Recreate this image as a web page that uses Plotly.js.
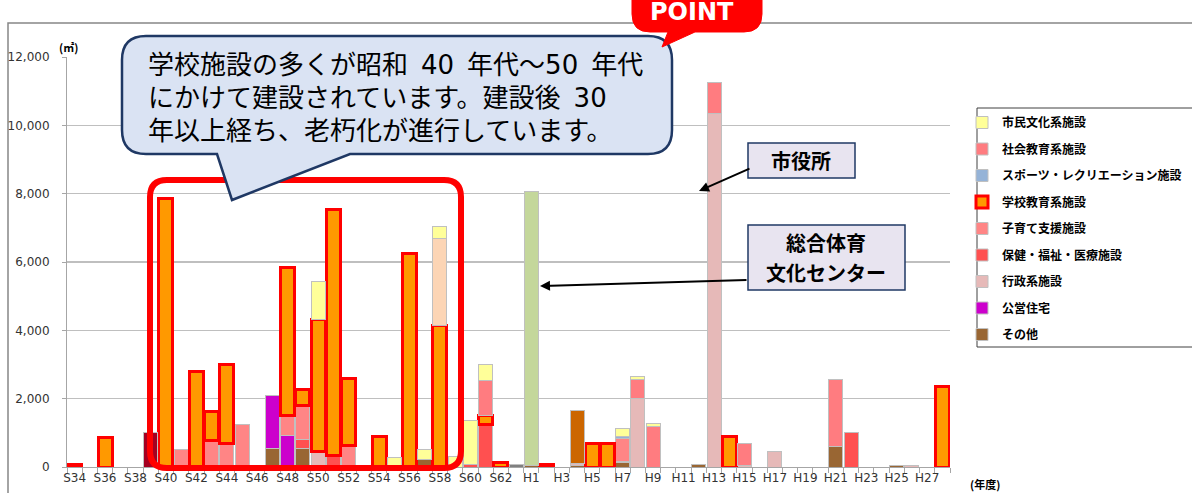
<!DOCTYPE html>
<html>
<head>
<meta charset="utf-8">
<script src="https://cdn.plot.ly/plotly-3.0.1.min.js"></script>
<style>
html,body{margin:0;padding:0;background:#fff;}
#chart{width:1192px;height:493px;}
</style>
</head>
<body>
<div id="chart"></div>
<script>
// ---- categories (fiscal years) ----
const years = ['S34','S35','S36','S37','S38','S39','S40','S41','S42','S43','S44','S45','S46','S47','S48','S49','S50','S51','S52','S53','S54','S55','S56','S57','S58','S59','S60','S61','S62','S63',
  'H1','H2','H3','H4','H5','H6','H7','H8','H9','H10','H11','H12','H13','H14','H15','H16','H17','H18','H19','H20','H21','H22','H23','H24','H25','H26','H27','H28'];
const yearLabels = ['S34','','S36','','S38','','S40','','S42','','S44','','S46','','S48','','S50','','S52','','S54','','S56','','S58','','S60','','S62','',
  'H1','','H3','','H5','','H7','','H9','','H11','','H13','','H15','','H17','','H19','','H21','','H23','','H25','','H27',''];

// ---- series values (m2), one value per year ----
//                 S34..S43                          S44..S53                                   S54..S63                              H1..H10                              H11..H20                               H21..H28
const sonota    = [0,0,0,0,0,0,0,0,0,0,              0,0,0,550,0,550,0,0,0,0,                     0,0,0,220,0,0,0,0,0,0,                 50,0,0,40,0,0,130,0,0,0,              0,60,0,0,0,0,0,0,0,0,                  590,0,0,0,30,0,0,0];
const koei      = [0,0,0,0,0,0,0,0,0,0,              0,0,0,1540,920,0,0,0,0,0,                    0,0,0,0,0,0,0,0,0,0,                   0,0,0,0,0,0,0,0,0,0,                  0,0,0,0,0,0,0,0,0,0,                   0,0,0,0,0,0,0,0];
const gyosei    = [0,0,0,0,0,0,0,0,0,0,              0,0,0,0,0,0,440,0,0,0,                       0,0,0,0,0,0,0,0,0,0,                   0,0,0,50,0,0,40,2010,0,0,             0,0,10350,0,50,0,450,0,0,0,            0,0,0,0,0,30,0,0];
const hoken     = [0,0,0,0,0,0,0,0,0,0,              0,0,0,0,0,250,0,350,0,0,                     0,0,0,0,0,0,60,1230,0,0,               0,0,0,0,0,0,0,0,0,0,                  0,0,0,0,0,0,0,0,0,0,                   0,1000,0,0,0,0,0,0];
const kosodate  = [0,0,0,0,0,0,0,520,0,790,          700,1230,0,0,580,1000,0,0,620,0,             0,0,0,0,0,0,0,0,0,0,                   0,0,0,0,0,0,650,0,0,0,                0,0,0,0,0,0,0,0,0,0,                   0,0,0,0,0,0,0,0];
const gakko     = [80,0,850,0,0,0,7870,0,2790,830,   2290,0,0,0,4350,460,3890,7200,1960,0,        900,0,6250,0,4150,0,0,290,130,0,       0,70,0,0,700,700,0,0,0,0,             0,0,0,900,0,0,0,0,0,0,                 0,0,0,0,0,0,0,2350];
const sports    = [0,0,0,0,0,0,0,0,0,0,              0,0,0,0,0,0,0,0,0,0,                         0,0,0,0,0,0,0,0,0,0,                   0,0,0,0,0,0,80,0,0,0,                 0,0,0,0,0,0,0,0,0,0,                   0,0,0,0,0,0,0,0];
const shakai    = [0,0,0,0,0,0,0,0,0,0,              0,0,0,0,0,0,0,0,0,0,                         0,0,0,0,0,0,0,1000,0,0,                0,0,0,0,0,0,0,560,1180,0,             0,0,900,0,650,0,0,0,0,0,               1985,0,0,0,0,0,0,0];
const peach     = [0,0,0,0,0,0,0,0,0,0,              0,0,0,0,0,0,0,0,0,0,                         0,0,0,0,2550,0,0,0,0,0,                0,0,0,0,0,0,0,0,0,0,                  0,0,0,0,0,0,0,0,0,0,                   0,0,0,0,0,0,0,0];
const green     = [0,0,0,0,0,0,0,0,0,0,              0,0,0,0,0,0,0,0,0,0,                         0,0,0,0,0,0,0,0,0,0,                   8000,0,0,0,0,0,0,0,0,0,               0,0,0,0,0,0,0,0,0,0,                   0,0,0,0,0,0,0,0];
const darkOrange= [0,0,0,0,0,0,0,0,0,0,              0,0,0,0,0,0,0,0,0,0,                         0,0,0,0,0,0,0,0,0,0,                   0,0,0,1560,0,0,0,0,0,0,               0,0,0,0,0,0,0,0,0,0,                   0,0,0,0,0,0,0,0];
const darkRed   = [0,0,0,0,0,1020,0,0,0,0,           0,0,0,0,0,0,0,0,0,0,                         0,0,0,0,0,0,0,0,0,0,                   0,0,0,0,0,0,0,0,0,0,                  0,0,0,0,0,0,0,0,0,0,                   0,0,0,0,0,0,0,0];
const grey      = [0,0,0,0,0,0,0,0,0,0,              0,0,0,0,0,0,0,0,0,0,                         0,0,0,0,0,0,0,0,0,70,                  0,0,0,0,0,0,0,0,0,0,                  0,0,0,0,0,0,0,0,0,0,                   0,0,0,0,0,0,0,0];
const shimin    = [0,0,0,0,0,0,0,0,0,0,              0,0,0,0,0,0,1090,0,0,0,                      0,280,0,300,325,300,1290,470,0,0,      0,0,0,0,0,0,230,90,100,0,             0,0,0,0,0,0,0,0,0,0,                   0,0,0,0,0,0,0,0];

const seriesNames = ['その他','公営住宅','行政系施設','保健・福祉・医療施設','子育て支援施設','学校教育系施設','スポーツ・レクリエーション施設','社会教育系施設','市民文化系施設'];

const FONT = '"Noto Sans CJK JP", "Noto Sans", sans-serif';
const GRID = '#bfbfbf';

function mk(name, y, color, opts) {
  opts = opts || {};
  return {
    type: 'bar', name: name, x: years, y: y.map(v => v === 0 ? null : v),
    marker: {color: color, line: {color: opts.lineColor || '#c0c0c0', width: opts.lineWidth || 1}},
    showlegend: opts.rank !== undefined,
    legendrank: opts.rank !== undefined ? opts.rank : 1000,
    legendgroup: name,
    hoverinfo: 'x+y+name'
  };
}

const traces = [
  mk(seriesNames[0], sonota, '#996633', {rank: 9}),
  mk(seriesNames[1], koei, '#CC00CC', {rank: 8}),
  mk(seriesNames[2], gyosei, '#E6B9B8', {rank: 7}),
  mk(seriesNames[3], hoken, '#FF5050', {rank: 6}),
  mk(seriesNames[4], kosodate, '#FF8585', {rank: 5}),
  mk(seriesNames[5], gakko, '#FF9900', {lineColor: '#FF0000', lineWidth: 3, rank: 4}),
  mk(seriesNames[6], sports, '#95B3D7', {rank: 3}),
  mk(seriesNames[7], shakai, '#FF7C80', {rank: 2}),
  mk('その他施設A', peach, '#FCD5B5'),
  mk('その他施設B', green, '#C4D79B'),
  mk('その他施設C', darkOrange, '#CC6600'),
  mk('その他施設D', darkRed, '#A50021'),
  mk('その他施設E', grey, '#808080'),
  mk(seriesNames[8], shimin, '#FFFF99', {rank: 1})
];

// pixel -> paper helpers for decorations
const PL = 67, PW = 883, PB = 467, PH = 410;
const px = x => (x - PL) / PW;
const py = y => (PB - y) / PH;
function P(x, y) { return px(x).toFixed(5) + ',' + py(y).toFixed(5); }
function roundRect(x0, y0, x1, y1, r, tail) {
  let s = 'M' + P(x0 + r, y0) + ' L' + P(x1 - r, y0) + ' Q' + P(x1, y0) + ' ' + P(x1, y0 + r) +
    ' L' + P(x1, y1 - r) + ' Q' + P(x1, y1) + ' ' + P(x1 - r, y1);
  if (tail) {
    s += ' L' + P(tail[1], y1) + ' L' + P(tail[2], tail[3]) + ' L' + P(tail[0], y1);
  }
  s += ' L' + P(x0 + r, y1) + ' Q' + P(x0, y1) + ' ' + P(x0, y1 - r) +
    ' L' + P(x0, y0 + r) + ' Q' + P(x0, y0) + ' ' + P(x0 + r, y0) + ' Z';
  return s;
}

const shapes = [
  // outer chart frame
  {type: 'rect', xref: 'paper', yref: 'paper', x0: px(8), x1: px(1400), y0: py(23), y1: py(700),
   line: {color: '#868686', width: 1.5}, fillcolor: 'rgba(0,0,0,0)', layer: 'below'},
  // legend frame
  {type: 'rect', xref: 'paper', yref: 'paper', x0: px(977), x1: px(1400), y0: py(108), y1: py(347),
   line: {color: '#404040', width: 1}, fillcolor: '#fff', layer: 'below'},
  // red highlight frame
  {type: 'path', xref: 'paper', yref: 'paper', path: roundRect(150, 180, 461, 468, 17),
   line: {color: '#FF0000', width: 6}, fillcolor: 'rgba(0,0,0,0)'},
  // speech bubble
  {type: 'path', xref: 'paper', yref: 'paper', path: roundRect(122, 36, 672, 154, 24, [217, 350, 232, 200]),
   line: {color: '#1F3864', width: 2.5}, fillcolor: '#DAE3F3'},
  // POINT bubble
  {type: 'path', xref: 'paper', yref: 'paper', path: roundRect(632, -25, 762, 32, 18, [668, 695, 662, 47]),
   line: {color: '#FF0000', width: 1}, fillcolor: '#FF0000'},
  // 市役所 box
  {type: 'rect', xref: 'paper', yref: 'paper', x0: px(748), x1: px(855), y0: py(178), y1: py(143),
   line: {color: '#1F3864', width: 1.5}, fillcolor: '#E8E4F0'},
  // 総合体育文化センター box
  {type: 'rect', xref: 'paper', yref: 'paper', x0: px(748), x1: px(905), y0: py(290), y1: py(225),
   line: {color: '#1F3864', width: 1.5}, fillcolor: '#E8E4F0'}
];

const BUBBLE_FONT = {family: '"DejaVu Sans", "Noto Sans CJK JP", sans-serif', size: 26, color: '#000'};
const ES = '\u2002';
const BOLD20 = {family: FONT, size: 20, color: '#000', weight: 'bold'};
const annotations = [
  {xref: 'paper', yref: 'paper', x: px(146), y: py(65), xanchor: 'left', yanchor: 'middle', align: 'left',
   showarrow: false, font: BUBBLE_FONT, text: '学校施設の多くが昭和' + ES + '40' + ES + '年代～50' + ES + '年代'},
  {xref: 'paper', yref: 'paper', x: px(146), y: py(98), xanchor: 'left', yanchor: 'middle', align: 'left',
   showarrow: false, font: BUBBLE_FONT, text: 'にかけて建設されています。建設後' + ES + '30'},
  {xref: 'paper', yref: 'paper', x: px(146), y: py(131), xanchor: 'left', yanchor: 'middle', align: 'left',
   showarrow: false, font: BUBBLE_FONT, text: '年以上経ち、老朽化が進行しています。'},
  {xref: 'paper', yref: 'paper', x: px(692), y: py(12), xanchor: 'center', yanchor: 'middle', showarrow: false,
   font: {family: '"DejaVu Sans", sans-serif', size: 24, color: '#fff', weight: 'bold'}, text: 'POINT'},
  {xref: 'paper', yref: 'paper', x: px(801), y: py(160), xanchor: 'center', yanchor: 'middle', showarrow: false,
   font: BOLD20, text: '市役所'},
  {xref: 'paper', yref: 'paper', x: px(826), y: py(243), xanchor: 'center', yanchor: 'middle', showarrow: false,
   font: BOLD20, text: '総合体育'},
  {xref: 'paper', yref: 'paper', x: px(826), y: py(272), xanchor: 'center', yanchor: 'middle', showarrow: false,
   font: BOLD20, text: '文化センター'},
  // arrows
  {xref: 'paper', yref: 'paper', x: px(699), y: py(191), ax: 52, ay: -23, text: '', showarrow: true,
   arrowhead: 2, arrowsize: 1, arrowwidth: 2, arrowcolor: '#000'},
  {xref: 'paper', yref: 'paper', x: px(540), y: py(286), ax: 208, ay: -6, text: '', showarrow: true,
   arrowhead: 2, arrowsize: 1, arrowwidth: 2, arrowcolor: '#000'},
  // units
  {xref: 'paper', yref: 'paper', x: px(57), y: py(47), xanchor: 'left', yanchor: 'middle', showarrow: false,
   font: {family: FONT, size: 11, color: '#000', weight: 'bold'}, text: '(㎡)'},
  {xref: 'paper', yref: 'paper', x: px(968), y: py(484), xanchor: 'left', yanchor: 'middle', showarrow: false,
   font: {family: FONT, size: 11, color: '#000', weight: 'bold'}, text: '(年度)'}
];

const layout = {
  width: 1192, height: 493,
  margin: {l: PL, r: 1192 - PL - PW, t: 57, b: 493 - PB, pad: 0, autoexpand: false},
  paper_bgcolor: '#fff', plot_bgcolor: '#fff',
  barmode: 'stack', bargap: 0.08,
  font: {family: FONT, color: '#222'},
  xaxis: {
    type: 'category', categoryorder: 'array', categoryarray: years,
    tickmode: 'array', tickvals: years, ticktext: yearLabels, tickson: 'boundaries',
    ticks: 'outside', ticklen: 5, tickcolor: '#a6a6a6', tickangle: 0,
    showline: true, linecolor: '#a6a6a6', linewidth: 1, showgrid: false,
    tickfont: {family: '"DejaVu Sans", sans-serif', size: 12, color: '#333'}
  },
  yaxis: {
    range: [0, 12000], tickmode: 'linear', tick0: 0, dtick: 2000, tickformat: ',d',
    ticks: 'outside', ticklen: 4, tickcolor: '#a6a6a6', ticklabelstandoff: 10,
    showline: true, linecolor: '#a6a6a6', linewidth: 1,
    showgrid: true, gridcolor: GRID, gridwidth: 1.2, zeroline: false,
    tickfont: {family: '"DejaVu Sans", sans-serif', size: 12, color: '#333'}
  },
  legend: {
    x: px(962), y: py(108), xanchor: 'left', yanchor: 'top',
    bgcolor: 'rgba(0,0,0,0)', borderwidth: 0,
    traceorder: 'grouped', tracegroupgap: 7.5,
    font: {family: FONT, size: 12, color: '#000', weight: 'bold'}
  },
  shapes: shapes,
  annotations: annotations
};

Plotly.newPlot('chart', traces, layout, {displayModeBar: false, staticPlot: true});
</script>
</body>
</html>
